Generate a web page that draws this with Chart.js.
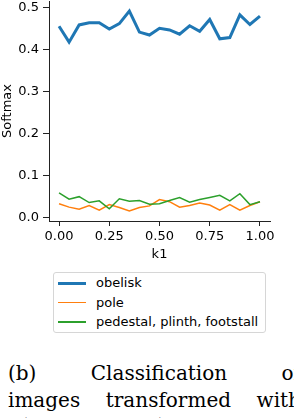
<!DOCTYPE html>
<html>
<head>
<meta charset="utf-8">
<script src="https://cdn.jsdelivr.net/npm/chart.js@4.4.1/dist/chart.umd.min.js"></script>
<style>
  body { margin: 0; background: #fff; }
  #page { position: relative; width: 294px; height: 418px; overflow: hidden; background: #fff; }
  #plot { position: absolute; left: 0; top: 0; width: 294px; height: 262px; }
  #legend { position: absolute; left: 53px; top: 272px; width: 211px; height: 59px;
            border: 1px solid #d6d6d6; border-radius: 3px; font-family: 'DejaVu Sans'; font-size: 13px; color: #000; }
  .row { position: absolute; left: 0; height: 16px; width: 100%; }
  .swatch { position: absolute; left: 4px; width: 28px; }
  .lbl { position: absolute; left: 42px; top: 0; line-height: 16px; white-space: nowrap; }
  .cap { position: absolute; left: 8px; width: 293px; font-family: 'DejaVu Serif'; font-size: 20px; color: #000;
         text-align: justify; text-align-last: justify; white-space: nowrap; line-height: 24px; }
</style>
</head>
<body>
<div id="page">
  <div id="plot"><canvas id="chart"></canvas></div>
  <div id="legend"></div>
  <div class="cap" style="top:361px;">(b) Classification of</div>
  <div class="cap" style="top:388px;">images transformed with</div>
  <div class="cap" style="top:414px; left:20px; width:auto; text-align:left; text-align-last:auto;">({0, 1}, [0, 1])</div>
</div>
<script>
// valori
const kValues = [0, 0.05, 0.1, 0.15, 0.2, 0.25, 0.3, 0.35, 0.4, 0.45, 0.5, 0.55, 0.6, 0.65, 0.7, 0.75, 0.8, 0.85, 0.9, 0.95, 1.0];
const obelisk = [0.456, 0.418, 0.459, 0.464, 0.464, 0.449, 0.462, 0.492, 0.442, 0.435, 0.451, 0.447, 0.437, 0.457, 0.444, 0.472, 0.426, 0.429, 0.483, 0.460, 0.480];
const pole = [0.033, 0.025, 0.020, 0.029, 0.018, 0.031, 0.024, 0.016, 0.024, 0.028, 0.043, 0.038, 0.025, 0.029, 0.035, 0.030, 0.018, 0.031, 0.018, 0.029, 0.038];
const pedestal = [0.059, 0.044, 0.050, 0.036, 0.040, 0.021, 0.045, 0.039, 0.041, 0.032, 0.033, 0.041, 0.048, 0.037, 0.043, 0.048, 0.053, 0.040, 0.057, 0.031, 0.038];
const seriesNames = ['obelisk', 'pole', 'pedestal, plinth, footstall'];
const xTicks = [0, 0.25, 0.5, 0.75, 1.0];
const yTicks = [0.0, 0.1, 0.2, 0.3, 0.4, 0.5];

const colors = ['#1f77b4', '#ff7f0e', '#2ca02c'];
const widths = [3, 1.5, 1.5];
const allSeries = [obelisk, pole, pedestal];
const font = { family: 'DejaVu Sans', size: 13 };

const datasets = allSeries.map((vals, i) => ({
    label: seriesNames[i],
    data: kValues.map((k, j) => ({ x: k, y: vals[j] })),
    borderColor: colors[i],
    backgroundColor: colors[i],
    borderWidth: widths[i],
    pointRadius: 0,
    tension: 0,
    order: 2 - i
}));

new Chart(document.getElementById('chart'), {
    type: 'line',
    data: { datasets: datasets },
    options: {
        responsive: true,
        maintainAspectRatio: false,
        animation: false,
        layout: { padding: { top: 1, right: 24, left: 0, bottom: 0 } },
        plugins: { legend: { display: false }, tooltip: { enabled: false } },
        scales: {
            x: {
                type: 'linear',
                min: -0.05,
                max: 1.05,
                afterBuildTicks: s => { s.ticks = xTicks.map(v => ({ value: v })); },
                afterFit: s => { s.height = 41; },
                ticks: { font: font, color: '#000', padding: 3, maxRotation: 0,
                         callback: v => Number(v).toFixed(2) },
                grid: { drawOnChartArea: false, drawTicks: true, tickLength: 5, tickColor: '#222' },
                border: { display: true, color: '#222', width: 1 },
                title: { display: true, text: 'k1', font: font, color: '#000', padding: 0 }
            },
            y: {
                type: 'linear',
                min: -0.008,
                max: 0.516,
                afterBuildTicks: s => { s.ticks = yTicks.map(v => ({ value: v })); },
                // niente spazio extra sopra/sotto per le etichette
                afterFit: s => { s.width = 49; s.paddingTop = 0; s.paddingBottom = 0; },
                ticks: { font: font, color: '#000', padding: 4,
                         callback: v => Number(v).toFixed(1) },
                grid: { drawOnChartArea: false, drawTicks: true, tickLength: 6, tickColor: '#222' },
                border: { display: true, color: '#222', width: 1 },
                title: { display: true, text: 'Softmax', font: font, color: '#000', padding: 0 }
            }
        }
    }
});

// legenda html, una voce per riga
const legend = document.getElementById('legend');
const rowTops = [2, 21.5, 41];
seriesNames.forEach((name, i) => {
    const row = document.createElement('div');
    row.className = 'row';
    row.style.top = rowTops[i] + 'px';
    const sw = document.createElement('div');
    sw.className = 'swatch';
    sw.style.height = widths[i] + 'px';
    sw.style.top = (8 - widths[i] / 2) + 'px';
    sw.style.background = colors[i];
    const lbl = document.createElement('div');
    lbl.className = 'lbl';
    lbl.textContent = name;
    row.appendChild(sw);
    row.appendChild(lbl);
    legend.appendChild(row);
});
</script>
</body>
</html>
